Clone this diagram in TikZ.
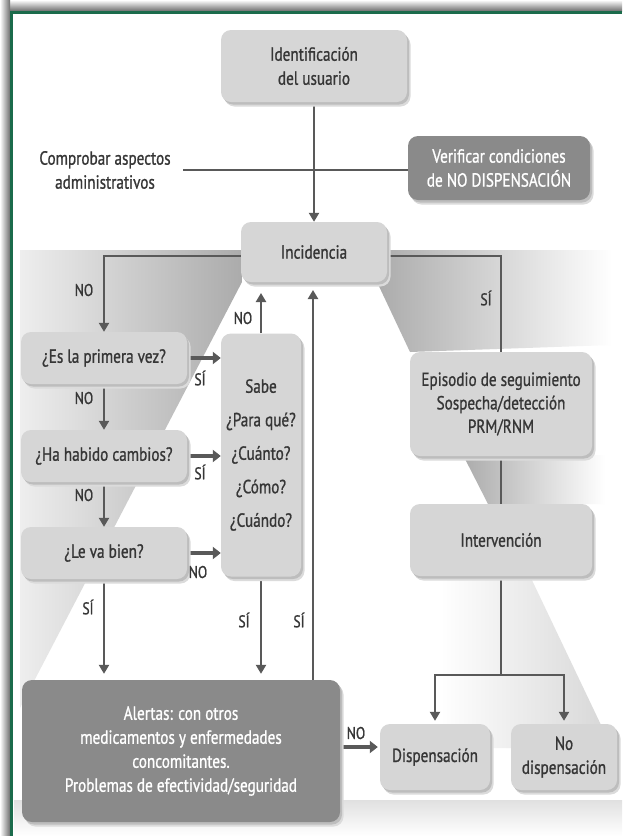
\documentclass[tikz,border=0pt]{standalone}
\usepackage{fontspec}
\setmainfont{PT Sans}[FakeStretch=0.80, FakeBold=1.0]
\usetikzlibrary{arrows.meta}
\definecolor{boxlight}{HTML}{D6D6D6}
\definecolor{boxdark}{HTML}{8A8A8A}
\definecolor{txt}{HTML}{363636}
\definecolor{lineg}{HTML}{595959}
\definecolor{frameg}{HTML}{1B6B4B}
\definecolor{beamdark}{HTML}{ABABAB}
\definecolor{beamlight}{HTML}{EEEEEE}
\definecolor{shadowg}{HTML}{6F6F6F}
\pgfdeclarelayer{bg}
\pgfdeclarelayer{lines}
\pgfsetlayers{bg,lines,main}
\begin{document}
\begin{tikzpicture}[x=1pt,y=-1pt,
  box/.style={rounded corners=10pt, align=center, inner sep=2pt,
    font=\fontsize{19}{24}\selectfont,
    preaction={fill=black!14, transform canvas={xshift=3.5pt,yshift=-4.5pt}},
    preaction={fill=black!26, transform canvas={xshift=2pt,yshift=-2.5pt}}},
  lightbox/.style={box, fill=boxlight, text=txt},
  darkbox/.style={box, fill=boxdark, text=white},
  conn/.style={draw=lineg, line width=2.6pt, line join=miter},
  arr/.style={conn, -{Triangle[width=10pt,length=9pt]}},
  fat/.style={draw=lineg, line width=4.5pt, -{Triangle[width=12pt,length=8pt]}},
  lbl/.style={text=txt, font=\fontsize{17}{18}\selectfont, inner sep=1pt}
]
\useasboundingbox (0,0) rectangle (622,836);

% ---------- background ----------
\begin{pgfonlayer}{bg}
\fill[white] (0,0) rectangle (622,836);
\shade[left color=beamlight, right color=beamdark] (20,250) -- (242,250) -- (242,282) -- (20,708) -- cycle;
\shade[left color=beamdark, right color=white] (377,282) -- (388,250) -- (612,250) -- (612,345) -- (410,352) -- cycle;
\shade[left color=beamdark, right color=white] (463,455) -- (605,455) -- (605,504) -- (488,504) -- cycle;
\shade[left color=white, right color=black!16] (440,576) -- (530,576) -- (612,748) -- (440,748) -- cycle;
\shade[top color=black!12, bottom color=white] (14,800) rectangle (622,836);
\shade[top color=white, bottom color=shadowg] (0,0) rectangle (622,11);
\shade[left color=white, right color=shadowg] (0,0) rectangle (10,836);
\draw[frameg, line width=3pt] (11.5,836) -- (11.5,12.5) -- (622,12.5);
\end{pgfonlayer}

% ---------- nodes ----------
\node[lightbox, minimum width=186pt, minimum height=72pt] (ident) at (314,66) {Identificación\\del usuario};
\node[text=txt, align=center, font=\fontsize{19}{24}\selectfont] (comp) at (105,170) {Comprobar aspectos\\administrativos};
\node[darkbox, minimum width=182pt, minimum height=64pt] (verif) at (499,168) {Verificar condiciones\\de NO DISPENSACIÓN};
\node[lightbox, minimum width=146pt, minimum height=60pt] (incid) at (314,252) {Incidencia};
\node[lightbox, minimum width=166pt, minimum height=52pt] (prim) at (104,358) {¿Es la primera vez?};
\node[lightbox, minimum width=166pt, minimum height=52pt] (hab) at (104,456) {¿Ha habido cambios?};
\node[lightbox, minimum width=166pt, minimum height=52pt] (lev) at (104,553) {¿Le va bien?};
\node[lightbox, minimum width=80pt, minimum height=243pt, font=\fontsize{19}{33.5}\selectfont] (sabe) at (261,455) {Sabe\\¿Para qué?\\¿Cuánto?\\¿Cómo?\\¿Cuándo?};
\node[lightbox, minimum width=182pt, minimum height=104pt, font=\fontsize{19}{23.5}\selectfont] (epis) at (501,404) {Episodio de seguimiento\\Sospecha/detección\\PRM/RNM};
\node[lightbox, minimum width=182pt, minimum height=72pt] (interv) at (501,540) {Intervención};
\node[darkbox, minimum width=318pt, minimum height=142pt, font=\fontsize{19}{24}\selectfont] (alert) at (181,751) {Alertas: con otros\\medicamentos y enfermedades\\concomitantes.\\Problemas de efectividad/seguridad};
\node[lightbox, minimum width=110pt, minimum height=66pt] (disp) at (435,757) {Dispensación};
\node[lightbox, minimum width=106pt, minimum height=66pt] (nodisp) at (564,757) {No\\dispensación};

% ---------- connectors ----------
\begin{pgfonlayer}{lines}
\coordinate (cl) at (183,170);
\coordinate (sabetop) at (261,293);
\coordinate (sit) at (313,290);
\coordinate (jn) at (501,675);
\draw[conn] (cl) -- (cl -| verif.west);
\draw[arr] (ident.south) -- (incid.north);
\draw[arr] ([yshift=-4pt]incid.west) -| (prim.north);
\draw[conn] ([yshift=-4pt]incid.east) -| (epis.north);
\draw[fat] (prim.east) -- (prim.east -| sabe.west);
\draw[fat] (hab.east) -- (hab.east -| sabe.west);
\draw[fat] (lev.east) -- (lev.east -| sabe.west);
\draw[arr] (prim.south) -- (hab.north);
\draw[arr] (hab.south) -- (lev.north);
\draw[arr] (sabe.north) -- (sabetop);
\draw[arr] (alert.north -| sit) -- (sit);
\draw[arr, shorten >=6pt] (sabe.south) -- (sabe.south |- alert.north);
\draw[arr, shorten >=6pt] (lev.south) -- (lev.south |- alert.north);
\draw[fat, shorten >=2pt] ([yshift=4pt]alert.east) -- ([yshift=4pt]alert.east -| disp.west);
\draw[conn] (epis.south) -- (interv.north);
\draw[conn] (interv.south) -- (jn);
\draw[arr, shorten >=3pt] (jn) -| (disp.north);
\draw[arr, shorten >=3pt] (jn) -| (nodisp.north);
\end{pgfonlayer}

% ---------- labels ----------
\node[lbl] (l1) at (84,290) {NO};
\node[lbl] (l2) at (486,298) {SÍ};
\node[lbl] (l3) at (200,378) {SÍ};
\node[lbl] (l4) at (84,398) {NO};
\node[lbl] (l5) at (200,472) {SÍ};
\node[lbl] (l6) at (84,495) {NO};
\node[lbl] (l7) at (198,572) {NO};
\node[lbl] (l8) at (243,318) {NO};
\node[lbl] (l9) at (88,607) {SÍ};
\node[lbl] (l10) at (244,620) {SÍ};
\node[lbl] (l11) at (299,620) {SÍ};
\node[lbl] (l12) at (356,733) {NO};
\end{tikzpicture}
\end{document}
